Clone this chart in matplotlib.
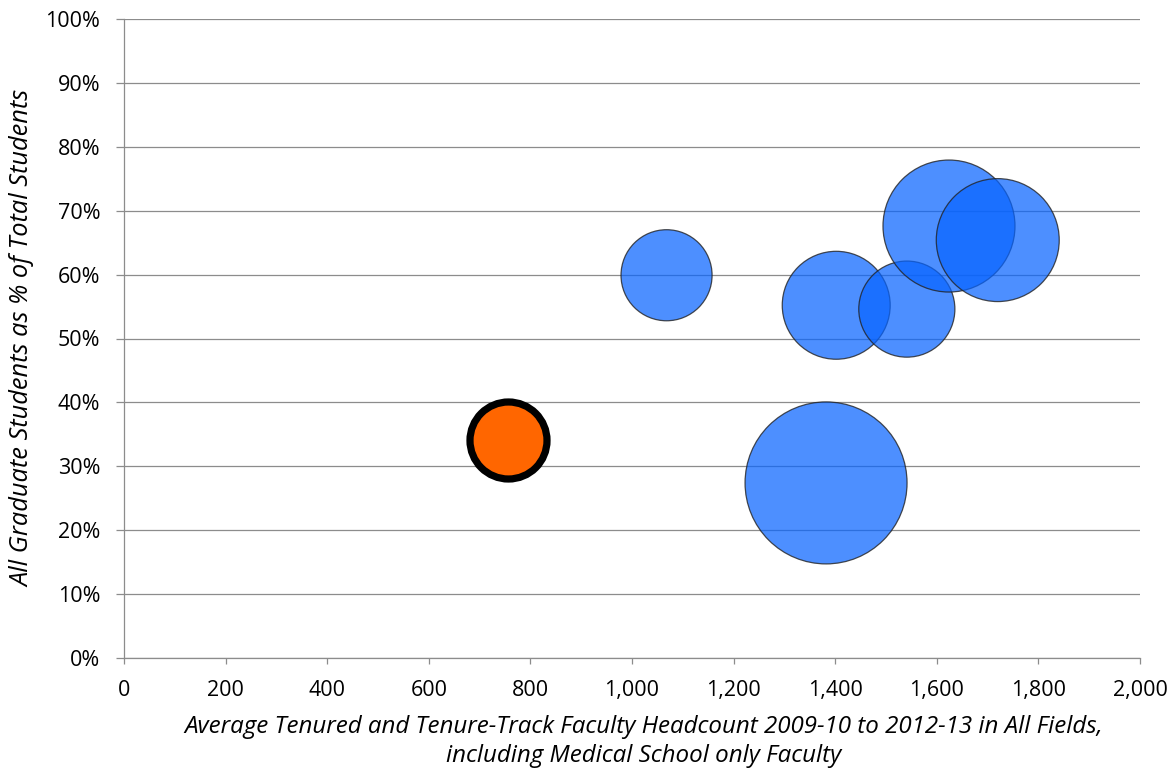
import matplotlib
matplotlib.use("Agg")
import matplotlib.pyplot as plt
import numpy as np
from matplotlib.ticker import FuncFormatter

plt.rcParams['font.family'] = ['Open Sans', 'DejaVu Sans']

# Average tenured / tenure-track faculty headcount
faculty = [755, 1068, 1382, 1402, 1541, 1624, 1720]
# Graduate students as share of total enrollment (%)
grad_share = [34.1, 59.9, 27.4, 55.2, 54.6, 67.6, 65.4]
# Total student enrollment (bubble area)
total_students = [11300, 15800, 50000, 22200, 17600, 33200, 28800]
highlight = [True, False, False, False, False, False, False]

x_ticks = list(range(0, 2001, 200))
y_ticks = list(range(0, 101, 10))

DPI = 100
fig = plt.figure(figsize=(11.73, 7.72), dpi=DPI)
ax = fig.add_axes([124 / 1173, (772 - 658) / 772, 1016 / 1173, 639 / 772])

# Excel-style bubble scaling: largest bubble diameter = 25% of plot height
max_diam_px = 162
px_to_pt = 72 / DPI
smax = max(total_students)
sizes = [(max_diam_px * np.sqrt(s / smax) * px_to_pt) ** 2 for s in total_students]

for xv, yv, s, hl in zip(faculty, grad_share, sizes, highlight):
    if hl:
        ax.scatter(xv, yv, s=s, color="#FF6600", edgecolors="black",
                   linewidths=5.2, zorder=4)
    else:
        ax.scatter(xv, yv, s=s, color="#0864FF", alpha=0.72, edgecolors="none",
                   zorder=3)
        ax.scatter(xv, yv, s=s, facecolors="none", edgecolors="#222222",
                   linewidths=0.9, alpha=0.8, zorder=3)

ax.set_xlim(0, 2000)
ax.set_ylim(0, 100)
ax.set_xticks(x_ticks)
ax.set_yticks(y_ticks)
ax.xaxis.set_major_formatter(FuncFormatter(lambda v, p: f"{int(v):,}"))
ax.yaxis.set_major_formatter(FuncFormatter(lambda v, p: f"{int(v)}%"))

ax.grid(axis="y", color="#8C8C8C", linewidth=0.9, zorder=0)
ax.set_axisbelow(True)
for side in ("top", "right"):
    ax.spines[side].set_visible(False)
for side in ("left", "bottom"):
    ax.spines[side].set_color("#8C8C8C")
    ax.spines[side].set_linewidth(0.9)

ax.tick_params(axis="y", direction="out", length=6, width=0.9, color="#8C8C8C",
               labelsize=15.5, pad=11, labelcolor="black")
ax.tick_params(axis="x", direction="out", length=4, width=0.9, color="#8C8C8C",
               labelsize=15.5, pad=12, labelcolor="black")

ax.set_ylabel("All Graduate Students as % of Total Students", fontsize=18.3,
              style="italic", labelpad=7)
ax.set_xlabel("Average Tenured and Tenure-Track Faculty Headcount 2009-10 to 2012-13 in All Fields,\n"
              "including Medical School only Faculty", fontsize=17.4, style="italic",
              labelpad=10, linespacing=1.25, x=0.511)

fig.savefig("out.png", dpi=DPI)
